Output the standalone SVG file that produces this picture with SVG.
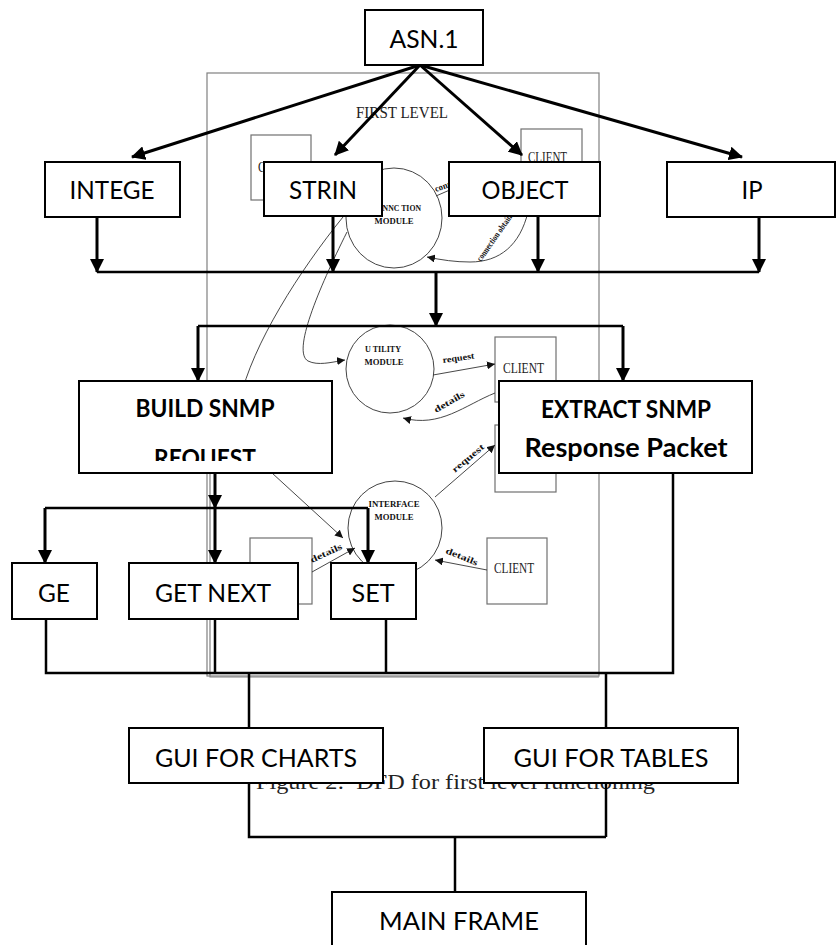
<svg xmlns="http://www.w3.org/2000/svg" width="836" height="945" viewBox="0 0 836 945">
<style>
.box{fill:#fff;stroke:#000;stroke-width:2}
.lbl{font-family:Lato,"Open Sans","Liberation Sans",sans-serif;font-size:25px;fill:#000;text-anchor:middle}
.bold{font-weight:bold;font-size:24px}
.conn{fill:none;stroke:#000;stroke-width:2.5}
.arr{fill:none;stroke:#000;stroke-width:3;marker-end:url(#ah)}
.frame{fill:none;stroke:#808080;stroke-width:1.2}
.gbox{fill:#fff;stroke:#707070;stroke-width:1.2}
.thin{fill:none;stroke:#333;stroke-width:0.9}
.thinA{fill:none;stroke:#333;stroke-width:0.9;marker-end:url(#sa)}
.circ{fill:none;stroke:#444;stroke-width:1}
.ser{font-family:"Liberation Serif","Times New Roman",serif;fill:#222}
.mod{font-family:"Liberation Serif",serif;font-weight:bold;font-size:9px;fill:#111;text-anchor:middle}
.tiny{font-family:"Liberation Serif",serif;font-weight:bold;font-size:9px;fill:#111}
</style>
<defs>
<marker id="ah" viewBox="0 0 14 14" refX="13" refY="7" markerWidth="14" markerHeight="14" markerUnits="userSpaceOnUse" orient="auto"><path d="M0,0 L14,7 L0,14 z" fill="#000"/></marker>
<marker id="sa" viewBox="0 0 8 8" refX="8" refY="4" markerWidth="8" markerHeight="8" markerUnits="userSpaceOnUse" orient="auto"><path d="M0,0 L8,4 L0,8 z" fill="#111"/></marker>
<clipPath id="bclip"><rect x="79" y="381" width="253" height="80"/></clipPath>
</defs>
<rect width="836" height="945" fill="#fff"/>

<g id="background-dfd">
<rect class="frame" x="207" y="73" width="392" height="603"/>
<path class="frame" d="M210,473 V677 H599"/>
<text class="ser" x="356" y="118" font-size="16" textLength="92" lengthAdjust="spacingAndGlyphs">FIRST LEVEL</text>
<rect class="gbox" x="251" y="135" width="60" height="65"/>
<text class="ser" x="258" y="172" font-size="14" textLength="41" lengthAdjust="spacingAndGlyphs">CLIENT</text>
<rect class="gbox" x="521" y="129" width="61" height="70"/>
<text class="ser" x="528" y="162" font-size="14" textLength="39" lengthAdjust="spacingAndGlyphs">CLIENT</text>
<ellipse class="circ" cx="394" cy="218" rx="48" ry="50"/>
<text class="mod" x="396" y="211" textLength="50" lengthAdjust="spacingAndGlyphs">CONNC TION</text>
<text class="mod" x="394" y="224" textLength="39" lengthAdjust="spacingAndGlyphs">MODULE</text>
<path class="thin" d="M436,196 L452,189"/>
<text class="tiny" transform="rotate(-20 436 192)" x="436" y="192" textLength="40" lengthAdjust="spacingAndGlyphs">connection</text>
<path class="thinA" d="M528,212 C 520,245 500,262 470,262 C 455,262 442,260 427,257"/>
<text class="tiny" transform="rotate(-55 481 262)" x="481" y="262" textLength="62" lengthAdjust="spacingAndGlyphs">connection obtained</text>
<circle class="circ" cx="390" cy="369" r="44"/>
<text class="mod" x="383" y="352" textLength="36" lengthAdjust="spacingAndGlyphs">U TILITY</text>
<text class="mod" x="384" y="365" textLength="39" lengthAdjust="spacingAndGlyphs">MODULE</text>
<rect class="gbox" x="495" y="337" width="61" height="65"/>
<text class="ser" x="503" y="373" font-size="14" textLength="41" lengthAdjust="spacingAndGlyphs">CLIENT</text>
<rect class="gbox" x="495" y="425" width="61" height="67"/>
<path class="thinA" d="M433,375 L495,364"/>
<text class="tiny" transform="rotate(-8 443 363)" x="443" y="363" textLength="32" lengthAdjust="spacingAndGlyphs">request</text>
<path class="thinA" d="M495,393 C 465,405 440,428 403,418"/>
<text class="tiny" transform="rotate(-30 436 413)" x="436" y="413" textLength="34" lengthAdjust="spacingAndGlyphs">details</text>
<path class="thin" d="M347,232 C 318,290 292,352 308,361 C 318,366 332,362 340,361"/>
<path class="thinA" d="M338,361 L345,360"/>
<path class="thin" d="M343,217 C 300,270 252,345 240,400 C 232,440 252,458 272,473"/>
<path class="thinA" d="M272,473 L343,538"/>
<circle class="circ" cx="395" cy="528" r="47"/>
<text class="mod" x="394" y="507" textLength="51" lengthAdjust="spacingAndGlyphs">INTERFACE</text>
<text class="mod" x="394" y="520" textLength="39" lengthAdjust="spacingAndGlyphs">MODULE</text>
<path class="thinA" d="M435,497 L495,445"/>
<text class="tiny" transform="rotate(-40 455 473)" x="455" y="473" textLength="39" lengthAdjust="spacingAndGlyphs">request</text>
<rect class="gbox" x="487" y="538" width="60" height="66"/>
<text class="ser" x="494" y="573" font-size="14" textLength="40" lengthAdjust="spacingAndGlyphs">CLIENT</text>
<path class="thinA" d="M487,570 L435,560"/>
<text class="tiny" transform="rotate(22 445 553)" x="445" y="553" textLength="34" lengthAdjust="spacingAndGlyphs">details</text>
<rect class="gbox" x="250" y="538" width="62" height="66"/>
<path class="thinA" d="M312,572 L355,548"/>
<text class="tiny" transform="rotate(-25 312 563)" x="312" y="563" textLength="34" lengthAdjust="spacingAndGlyphs">details</text>
</g>

<text class="ser" x="256" y="789" font-size="20" textLength="399" lengthAdjust="spacingAndGlyphs" fill="#111">Figure 2:&#160; DFD for first level functioning</text>

<g id="connectors">
<path class="arr" d="M420,65 L132,157"/>
<path class="arr" d="M420,65 L335,155"/>
<path class="arr" d="M420,65 L522,155"/>
<path class="arr" d="M420,65 L742,157"/>
<path class="arr" d="M97,217 V272"/>
<path class="arr" d="M333,216 V272"/>
<path class="arr" d="M538,216 V272"/>
<path class="arr" d="M759,217 V272"/>
<path class="conn" d="M97,272 H759"/>
<path class="arr" d="M436,272 V326"/>
<path class="conn" d="M198,326 H623"/>
<path class="arr" d="M198,326 V381"/>
<path class="arr" d="M623,326 V381"/>
<path class="arr" d="M215,473 V508"/>
<path class="conn" d="M45,508 H368"/>
<path class="arr" d="M45,508 V563"/>
<path class="arr" d="M215,508 V563"/>
<path class="arr" d="M368,508 V563"/>
<path class="conn" d="M46,619 V673 H673 V473"/>
<path class="conn" d="M215,619 V673"/>
<path class="conn" d="M386,619 V673"/>
<path class="conn" d="M249,673 V837 H606"/>
<path class="conn" d="M606,673 V837"/>
<path class="conn" d="M455,837 V892"/>
</g>

<g id="node-asn1"><rect class="box" x="365" y="10" width="118" height="55"/><text class="lbl" x="424" y="48" textLength="69" lengthAdjust="spacingAndGlyphs">ASN.1</text></g>
<g id="node-intege"><rect class="box" x="45" y="162" width="135" height="55"/><text class="lbl" x="112" y="199" textLength="85" lengthAdjust="spacingAndGlyphs">INTEGE</text></g>
<g id="node-strin"><rect class="box" x="264" y="162" width="118" height="54"/><text class="lbl" x="323" y="199" textLength="68" lengthAdjust="spacingAndGlyphs">STRIN</text></g>
<g id="node-object"><rect class="box" x="449" y="162" width="151" height="54"/><text class="lbl" x="525" y="199" textLength="87" lengthAdjust="spacingAndGlyphs">OBJECT</text></g>
<g id="node-ip"><rect class="box" x="667" y="162" width="168" height="55"/><text class="lbl" x="752" y="199" textLength="21" lengthAdjust="spacingAndGlyphs">IP</text></g>
<g id="node-build"><rect class="box" x="79" y="381" width="253" height="92"/><g clip-path="url(#bclip)"><text class="lbl bold" x="205" y="417" textLength="139" lengthAdjust="spacingAndGlyphs">BUILD SNMP</text><text class="lbl bold" x="205" y="467" textLength="102" lengthAdjust="spacingAndGlyphs">REQUEST</text></g></g>
<g id="node-extract"><rect class="box" x="499" y="381" width="253" height="92"/><text class="lbl bold" x="626" y="418" textLength="170" lengthAdjust="spacingAndGlyphs">EXTRACT SNMP</text><text class="lbl bold" x="626" y="457" font-size="26" style="font-size:26px" textLength="203" lengthAdjust="spacingAndGlyphs">Response Packet</text></g>
<g id="node-ge"><rect class="box" x="12" y="563" width="85" height="56"/><text class="lbl" x="54" y="602" textLength="32" lengthAdjust="spacingAndGlyphs">GE</text></g>
<g id="node-getnext"><rect class="box" x="129" y="563" width="169" height="56"/><text class="lbl" x="213" y="602" textLength="116" lengthAdjust="spacingAndGlyphs">GET NEXT</text></g>
<g id="node-set"><rect class="box" x="331" y="563" width="85" height="56"/><text class="lbl" x="373" y="602" textLength="43" lengthAdjust="spacingAndGlyphs">SET</text></g>
<g id="node-gui-charts"><rect class="box" x="129" y="728" width="254" height="55"/><text class="lbl" x="256" y="767" textLength="202" lengthAdjust="spacingAndGlyphs">GUI FOR CHARTS</text></g>
<g id="node-gui-tables"><rect class="box" x="484" y="728" width="254" height="55"/><text class="lbl" x="611" y="767" textLength="195" lengthAdjust="spacingAndGlyphs">GUI FOR TABLES</text></g>
<g id="node-mainframe"><rect class="box" x="332" y="892" width="254" height="60"/><text class="lbl" x="459" y="930" textLength="160" lengthAdjust="spacingAndGlyphs">MAIN FRAME</text></g>
</svg>
